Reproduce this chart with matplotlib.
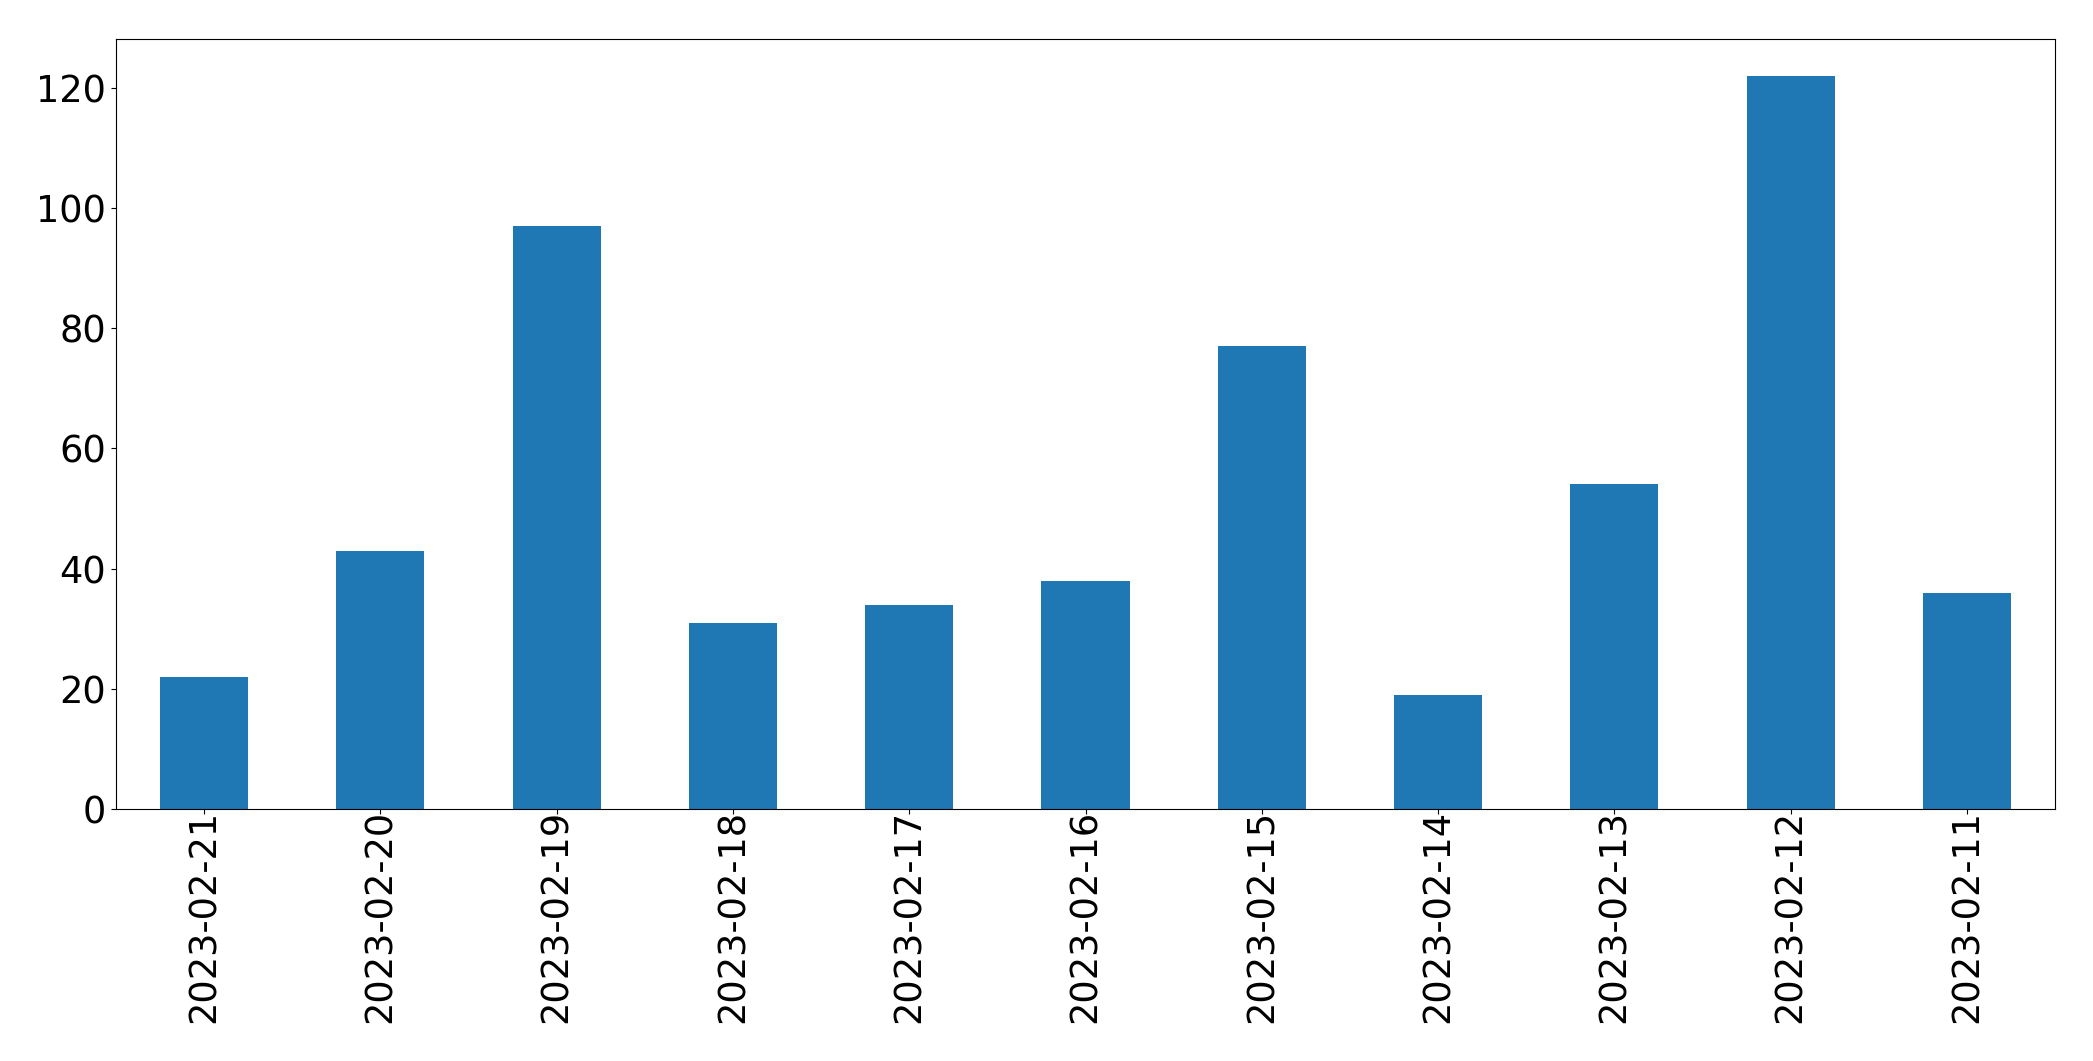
import matplotlib
matplotlib.use("Agg")
import matplotlib.pyplot as plt
import pandas as pd

dates = ["2023-02-21", "2023-02-20", "2023-02-19", "2023-02-18", "2023-02-17",
         "2023-02-16", "2023-02-15", "2023-02-14", "2023-02-13", "2023-02-12",
         "2023-02-11"]
counts = [22, 43, 97, 31, 34, 38, 77, 19, 54, 122, 36]

plt.rcParams["font.size"] = 26.5
fig = plt.figure(figsize=(20.93, 10.61), dpi=100)
ax = fig.add_axes([116/2093, 1 - 809/1061, (2055-116)/2093, (809-39)/1061])
s = pd.Series(counts, index=dates)
s.plot(kind="bar", ax=ax, color="#1f77b4")
ax.set_yticks([0, 20, 40, 60, 80, 100, 120])
ax.tick_params(axis="x", pad=-3)
fig.savefig("out.png", dpi=100)
